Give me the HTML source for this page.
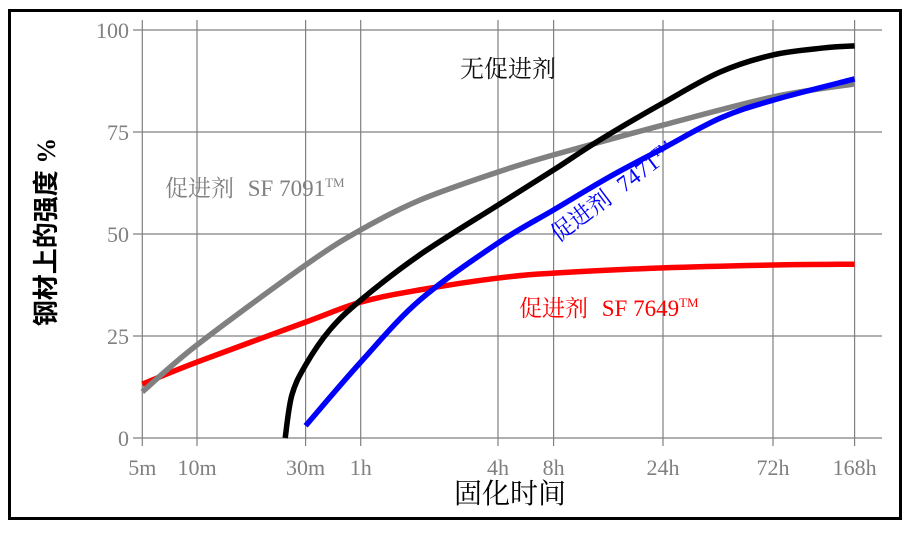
<!DOCTYPE html>
<html><head><meta charset="utf-8"><style>
body{margin:0;background:#fff;}
svg{display:block;}
</style></head><body>
<svg id="chart" width="909" height="536" xmlns="http://www.w3.org/2000/svg">
<rect x="9.5" y="10.5" width="891" height="508" fill="#fff" stroke="#000" stroke-width="3"/>
<g id="grid"></g>
<g id="series"></g>
<g id="labels"></g>
<text x="508" y="77" font-family="Liberation Serif, Noto Serif CJK SC, serif" font-size="24" fill="#111" text-anchor="middle">无促进剂</text>
<text x="165" y="196" font-family="Liberation Serif, Noto Serif CJK SC, serif" font-size="23" fill="#808080">促进剂 <tspan dx="8">SF  7091</tspan><tspan font-size="13" dy="-9">TM</tspan></text>
<text x="0" y="0" transform="translate(558,243) rotate(-37)" font-family="Liberation Serif, Noto Serif CJK SC, serif" font-size="23" fill="#0000ff">促进剂 <tspan dx="8">7471</tspan><tspan font-size="13" dy="-9">TM</tspan></text>
<text x="519" y="316" font-family="Liberation Serif, Noto Serif CJK SC, serif" font-size="23" fill="#ff0000">促进剂 <tspan dx="8">SF  7649</tspan><tspan font-size="13" dy="-9">TM</tspan></text>
<text x="510" y="503" font-family="Noto Serif CJK SC, serif" font-size="28" fill="#000" text-anchor="middle">固化时间</text>
<text x="0" y="0" transform="translate(55,232) rotate(-90)" font-family="Liberation Serif, Noto Sans CJK SC, sans-serif" font-size="26" font-weight="bold" fill="#000" text-anchor="middle">钢材上的强度 %</text>
</svg>
<script>
const xTickMinutes=[5,10,30,60,240,480,1440,4320,10080];
const xTickLabels=["5m","10m","30m","1h","4h","8h","24h","72h","168h"];
const yTickValues=[0,25,50,75,100];
const seriesNames=["none","sf7091","7471","sf7649"];
const noneX=[24.4,26.1,30,40.7,60,109,240,480,761,1440,2549,4320,7310,10080];
const noneY=[0,10.5,17.9,26.5,33.8,44.9,57.1,65.7,73,82.1,89.7,93.9,95.6,96.1];
const sf7091X=[5,10,30,60,109,240,480,1440,4320,10080];
const sf7091Y=[11.3,22.8,42.4,51,58.3,65.2,69.4,76.7,83.6,86.8];
const a7471X=[30,60,109,240,480,841,1440,2549,4320,10080];
const a7471Y=[3,18.6,33.8,47.8,55.9,64,71,78.4,82.8,88];
const sf7649X=[5,10,30,60,109,240,480,1440,4320,10080];
const sf7649Y=[13.2,18.6,28.4,33.3,36.3,39.2,40.4,41.7,42.4,42.6];

const NS="http://www.w3.org/2000/svg";
// axis layout (tick pixel positions of the non-uniform log axis)
const tickPx=[142.3,197,305.6,360.7,498,553.6,663,773,854.6];
function xScale(m){
  let i=0;
  while(i<xTickMinutes.length-2 && m>xTickMinutes[i+1]) i++;
  const a=xTickMinutes[i],b=xTickMinutes[i+1];
  const f=Math.log(m/a)/Math.log(b/a);
  return tickPx[i]+f*(tickPx[i+1]-tickPx[i]);
}
function yScale(v){return 438-v*4.08;}
function mk(tag,attrs,parent){const e=document.createElementNS(NS,tag);for(const k in attrs)e.setAttribute(k,attrs[k]);parent.appendChild(e);return e;}
const grid=document.getElementById('grid');
xTickMinutes.forEach((m,i)=>{
  const x=xScale(m);
  const l=mk('line',{x1:x,x2:x,y1:20,y2:446,stroke:'#808080','stroke-width':1.2},grid);
  
  
  const t=mk('text',{x:x,y:475,'text-anchor':'middle','font-family':'Liberation Serif, serif','font-size':22,fill:'#808080'},grid);
  t.textContent=xTickLabels[i];
  
  
});
yTickValues.forEach(v=>{
  const y=yScale(v);
  const l=mk('line',{x1:133,x2:882,y1:y,y2:y,stroke:'#808080','stroke-width':1.2},grid);
  
  
  const t=mk('text',{x:129,y:y+8,'text-anchor':'end','font-family':'Liberation Serif, serif','font-size':22,fill:'#808080'},grid);
  t.textContent=v;
  
  
});
function path(xs,ys){
  const p=xs.map((m,i)=>[xScale(m),yScale(ys[i])]);
  let d='M'+p[0][0]+','+p[0][1];
  for(let i=0;i<p.length-1;i++){
    const p0=p[Math.max(0,i-1)],p1=p[i],p2=p[i+1],p3=p[Math.min(p.length-1,i+2)];
    const c1=[p1[0]+(p2[0]-p0[0])/6,p1[1]+(p2[1]-p0[1])/6];
    const c2=[p2[0]-(p3[0]-p1[0])/6,p2[1]-(p3[1]-p1[1])/6];
    d+=' C'+c1+' '+c2+' '+p2;
  }
  return d;
}
const ser=document.getElementById('series');
const defs=[[sf7649X,sf7649Y,'#ff0000','series-sf7649'],[sf7091X,sf7091Y,'#808080','series-sf7091'],[noneX,noneY,'#000000','series-no-accelerator'],[a7471X,a7471Y,'#0000ff','series-7471']];
defs.forEach(s=>{
  const e=mk('path',{d:path(s[0],s[1]),fill:'none',stroke:s[2],'stroke-width':5.5},ser);
  
  
});
</script>
</body></html>
